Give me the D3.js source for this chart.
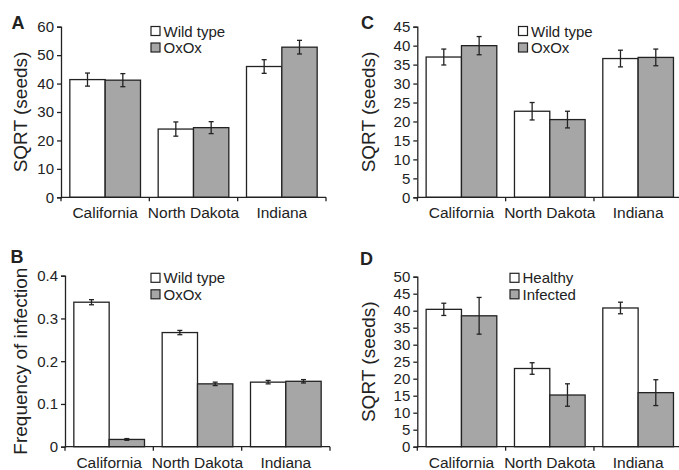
<!DOCTYPE html>
<html>
<head>
<meta charset="utf-8">
<script src="https://cdn.jsdelivr.net/npm/d3@7"></script>
<style>
  body { margin: 0; background: #fff; }
  svg text { font-family: "Liberation Sans", Arial, sans-serif; fill: #222; }
</style>
</head>
<body>
<div id="chart"></div>
<script>
// categories shared by all four panels
const sites = ['California', 'North Dakota', 'Indiana'];

// panel A: SQRT (seeds), wild type vs OxOx
const aSeries = ['Wild type', 'OxOx'];
const aMeans = [[41.4, 41.2], [24.0, 24.5], [46.0, 52.8]];
const aErrors = [[2.3, 2.3], [2.5, 2.1], [2.4, 2.4]];

// panel B: frequency of infection
const bSeries = ['Wild type', 'OxOx'];
const bMeans = [[0.338, 0.017], [0.267, 0.147], [0.151, 0.153]];
const bErrors = [[0.006, 0.002], [0.005, 0.004], [0.004, 0.004]];

// panel C: SQRT (seeds), wild type vs OxOx
const cSeries = ['Wild type', 'OxOx'];
const cMeans = [[37.0, 40.0], [22.7, 20.5], [36.6, 36.9]];
const cErrors = [[2.1, 2.4], [2.3, 2.2], [2.2, 2.2]];

// panel D: SQRT (seeds), healthy vs infected
const dSeries = ['Healthy', 'Infected'];
const dMeans = [[40.4, 38.5], [23.0, 15.2], [40.8, 15.9]];
const dErrors = [[1.8, 5.4], [1.7, 3.3], [1.7, 3.8]];

const fills = ['#ffffff', '#a6a6a6'];
const ink = '#222';

const svg = d3.select('#chart')
  .append('svg')
  .attr('width', 679)
  .attr('height', 470);

// draws one grouped bar panel
function drawPanel(p) {
  const g = svg.append('g');

  const x = d3.scaleBand()
    .domain(sites)
    .range([p.x0, p.x0 + 265])
    .paddingInner(0.2)
    .paddingOuter(0.1);

  const xs = d3.scaleBand()
    .domain(p.series)
    .range([0, x.bandwidth()]);

  const y = d3.scaleLinear()
    .domain([0, p.max])
    .range([p.yBot, p.yTop]);

  // bars
  sites.forEach((site, i) => {
    const grp = g.append('g').attr('transform', `translate(${x(site)},0)`);
    p.series.forEach((s, j) => {
      const v = p.means[i][j];
      const e = p.errors[i][j];
      grp.append('rect')
        .attr('x', xs(s))
        .attr('y', y(v))
        .attr('width', xs.bandwidth())
        .attr('height', y(0) - y(v))
        .attr('fill', fills[j])
        .attr('stroke', ink)
        .attr('stroke-width', 1.3);
      // error bar
      const cx = xs(s) + xs.bandwidth() / 2;
      grp.append('line')
        .attr('x1', cx).attr('x2', cx)
        .attr('y1', y(v + e)).attr('y2', y(v - e))
        .attr('stroke', ink).attr('stroke-width', 1.3);
      [v + e, v - e].forEach(t => {
        grp.append('line')
          .attr('x1', cx - 2.5).attr('x2', cx + 2.5)
          .attr('y1', y(t)).attr('y2', y(t))
          .attr('stroke', ink).attr('stroke-width', 1.3);
      });
    });
  });

  // y axis
  const yAxis = d3.axisLeft(y)
    .tickValues(d3.range(0, p.max + p.step / 2, p.step))
    .tickSize(4)
    .tickPadding(3)
    .tickFormat(p.fmt);
  const ya = g.append('g')
    .attr('transform', `translate(${p.x0},0)`)
    .call(yAxis);
  ya.select('.domain').attr('stroke', ink).attr('stroke-width', 1.3);
  ya.selectAll('.tick line').attr('stroke', ink).attr('stroke-width', 1.3);
  ya.selectAll('.tick text')
    .style('font-size', '15px')
    .attr('fill', ink);

  // x axis with ticks at band boundaries
  const step = x.step();
  g.append('line')
    .attr('x1', p.x0).attr('x2', p.x0 + 3 * step)
    .attr('y1', p.yBot).attr('y2', p.yBot)
    .attr('stroke', ink).attr('stroke-width', 1.3);
  d3.range(4).forEach(k => {
    g.append('line')
      .attr('x1', p.x0 + k * step).attr('x2', p.x0 + k * step)
      .attr('y1', p.yBot).attr('y2', p.yBot + 4)
      .attr('stroke', ink).attr('stroke-width', 1.3);
  });
  g.selectAll('text.cat')
    .data(sites)
    .join('text')
    .attr('class', 'cat')
    .attr('x', d => x(d) + x.bandwidth() / 2)
    .attr('y', p.yBot + 21)
    .attr('text-anchor', 'middle')
    .style('font-size', '15.5px')
    .text(d => d);

  // y title
  g.append('text')
    .attr('transform', `translate(${p.titleX},${(p.yTop + p.yBot) / 2}) rotate(-90)`)
    .attr('text-anchor', 'middle')
    .attr('dy', '0.35em')
    .style('font-size', '19px')
    .text(p.title);

  // panel letter
  g.append('text')
    .attr('x', p.letterX)
    .attr('y', p.letterY)
    .style('font-size', '18px')
    .style('font-weight', 'bold')
    .attr('fill', '#111')
    .text(p.letter);

  // legend
  p.series.forEach((s, j) => {
    g.append('rect')
      .attr('x', p.legX)
      .attr('y', p.legY + j * 16.5)
      .attr('width', 9)
      .attr('height', 9)
      .attr('fill', fills[j])
      .attr('stroke', ink)
      .attr('stroke-width', 1.2);
    g.append('text')
      .attr('x', p.legX + 12.5)
      .attr('y', p.legY + 10 + j * 16.5)
      .style('font-size', '15px')
      .text(s);
  });
}

const intFmt = d3.format('d');
const decFmt = d => d === 0 ? '0' : d3.format('.1f')(d);

drawPanel({ letter: 'A', letterX: 11.5, letterY: 29, x0: 61, yTop: 26.7, yBot: 197.3,
  max: 60, step: 10, fmt: intFmt, series: aSeries, means: aMeans, errors: aErrors,
  title: 'SQRT (seeds)', titleX: 20, legX: 151, legY: 26.5 });

drawPanel({ letter: 'C', letterX: 361, letterY: 29, x0: 417.3, yTop: 26.7, yBot: 197.3,
  max: 45, step: 5, fmt: intFmt, series: cSeries, means: cMeans, errors: cErrors,
  title: 'SQRT (seeds)', titleX: 368.5, legX: 518.5, legY: 26.5 });

drawPanel({ letter: 'B', letterX: 10.5, letterY: 263, x0: 65, yTop: 275.7, yBot: 446.7,
  max: 0.4, step: 0.1, fmt: decFmt, series: bSeries, means: bMeans, errors: bErrors,
  title: 'Frequency of infection', titleX: 20, legX: 151, legY: 273.3 });

drawPanel({ letter: 'D', letterX: 360, letterY: 265, x0: 417.3, yTop: 276.7, yBot: 446.7,
  max: 50, step: 5, fmt: intFmt, series: dSeries, means: dMeans, errors: dErrors,
  title: 'SQRT (seeds)', titleX: 368.5, legX: 510, legY: 273.3 });
</script>
</body>
</html>
